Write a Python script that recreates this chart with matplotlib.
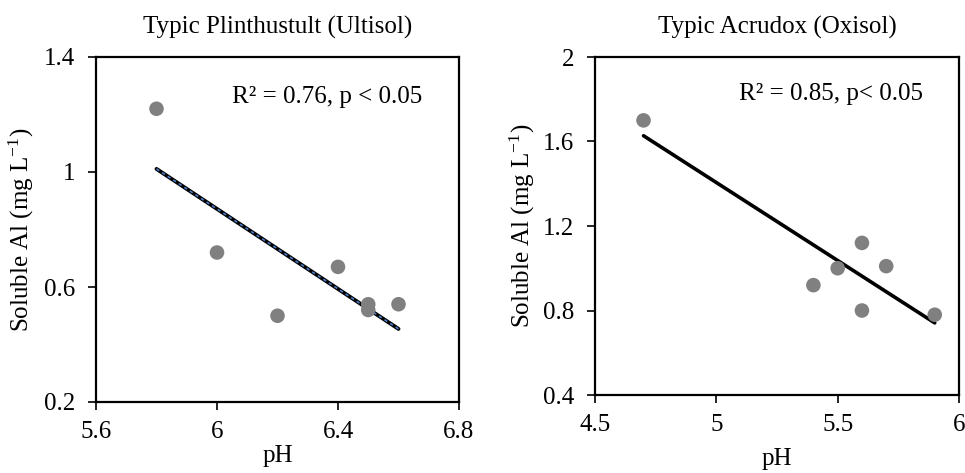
import matplotlib
matplotlib.use("Agg")
import matplotlib.pyplot as plt
import numpy as np

plt.rcParams['font.family'] = ['Liberation Serif', 'DejaVu Serif']
plt.rcParams['mathtext.fontset'] = 'custom'
plt.rcParams['mathtext.rm'] = 'Liberation Serif'
plt.rcParams['mathtext.it'] = 'Liberation Serif:italic'

# Data
ult_ph = [5.8, 6.0, 6.2, 6.4, 6.5, 6.5, 6.6]
ult_al = [1.22, 0.72, 0.50, 0.67, 0.54, 0.52, 0.54]
oxi_ph = [4.7, 5.4, 5.5, 5.6, 5.6, 5.7, 5.9]
oxi_al = [1.70, 0.92, 1.00, 1.12, 0.80, 1.01, 0.78]

titles = ["Typic Plinthustult (Ultisol)", "Typic Acrudox (Oxisol)"]
stats = ["R² = 0.76, p < 0.05", "R² = 0.85, p< 0.05"]
ult_xticks = [5.6, 6.0, 6.4, 6.8]
ult_xlabels = ["5.6", "6", "6.4", "6.8"]
ult_yticks = [0.2, 0.6, 1.0, 1.4]
ult_ylabels = ["0.2", "0.6", "1", "1.4"]
oxi_xticks = [4.5, 5.0, 5.5, 6.0]
oxi_xlabels = ["4.5", "5", "5.5", "6"]
oxi_yticks = [0.4, 0.8, 1.2, 1.6, 2.0]
oxi_ylabels = ["0.4", "0.8", "1.2", "1.6", "2"]

W, H = 965, 473
fig = plt.figure(figsize=(W/100, H/100), dpi=100)

def box(x0, y0, x1, y1):
    return [x0/W, 1 - y1/H, (x1-x0)/W, (y1-y0)/H]

ax1 = fig.add_axes(box(96, 57, 459, 402))
ax2 = fig.add_axes(box(595, 57, 959, 395))

FS = 18
ylab = r'Soluble Al (mg L$^{\mathregular{-1}}$)'

def setup(ax, xt, xl, yt, yl, title, st, stx, sty, xlabpad, ylabpad):
    ax.set_xlim(xt[0], xt[-1])
    ax.set_ylim(yt[0], yt[-1])
    ax.set_xticks(xt)
    ax.set_xticklabels(xl, fontsize=FS)
    ax.set_yticks(yt)
    ax.set_yticklabels(yl, fontsize=FS)
    ax.tick_params(direction='out', length=6, width=1.2)
    ax.tick_params(axis='y', pad=9)
    ax.tick_params(axis='x', pad=8)
    for s in ax.spines.values():
        s.set_linewidth(1.6)
        s.set_color('black')
    ax.set_title(title, fontsize=FS, pad=17)
    ax.set_xlabel('pH', fontsize=FS, labelpad=xlabpad)
    ax.set_ylabel(ylab, fontsize=FS, labelpad=ylabpad)
    ax.text(stx, sty, st, transform=ax.transAxes, fontsize=FS, ha='left', va='center')

# Left panel
ax1.scatter(ult_ph, ult_al, s=110, color='#808080', zorder=3, edgecolors='none')
c1 = np.polyfit(ult_ph, ult_al, 1)
xl1 = np.array([min(ult_ph), max(ult_ph)])
ax1.plot(xl1, np.polyval(c1, xl1), color='black', lw=2.8, solid_capstyle='round', zorder=2)
ax1.plot(xl1, np.polyval(c1, xl1), color='#4a7cc9', lw=1.2, ls=(0, (2, 2)), zorder=2.5)
setup(ax1, ult_xticks, ult_xlabels, ult_yticks, ult_ylabels, titles[0], stats[0],
      0.375, 0.885, 1, 6)

# Right panel
ax2.scatter(oxi_ph, oxi_al, s=110, color='#808080', zorder=3, edgecolors='none')
c2 = np.polyfit(oxi_ph, oxi_al, 1)
xl2 = np.array([min(oxi_ph), max(oxi_ph)])
ax2.plot(xl2, np.polyval(c2, xl2), color='black', lw=2.6, solid_capstyle='round', zorder=2)
setup(ax2, oxi_xticks, oxi_xlabels, oxi_yticks, oxi_ylabels, titles[1], stats[1],
      0.395, 0.89, 8, 4)

fig.savefig('out.png', dpi=100)
